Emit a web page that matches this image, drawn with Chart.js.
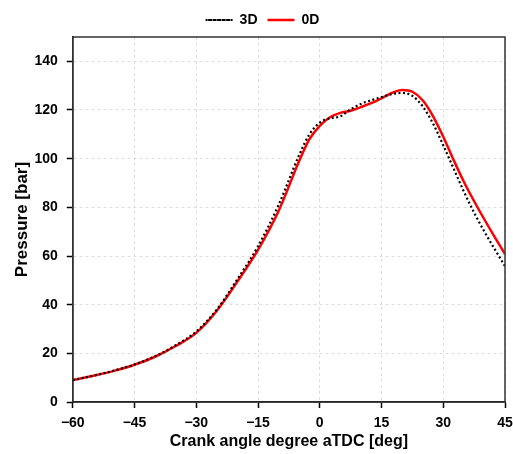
<!DOCTYPE html>
<html>
<head>
<meta charset="utf-8">
<script src="https://cdn.jsdelivr.net/npm/chart.js@4.4.1/dist/chart.umd.min.js"></script>
<style>
  html, body { margin: 0; padding: 0; background: #fff; }
  #wrap { width: 513px; height: 454px; }
</style>
</head>
<body>
<div id="wrap"><canvas id="pressureChart"></canvas></div>
<script>
// Ángulo de cigüeñal (deg aTDC)
const crankAngle = [-60, -55, -50, -45, -40, -35, -30, -25, -20, -15, -10, -5, -2.5, 0, 2.5, 5, 7.5, 10, 12.5, 15, 17.5, 20, 22.5, 25, 27.5, 30, 32.5, 35, 37.5, 40, 42.5, 45];

// Presión 3D (bar) - línea punteada negra
const pressure3D = [9, 10.8, 12.9, 15.4, 18.8, 23.3, 29, 38, 50.5, 64, 81, 101.5, 110, 114.8, 116.6, 117.4, 120.3, 122.5, 124, 125.3, 126.5, 127, 125.8, 121.5, 114.5, 105.5, 96, 86.5, 77.8, 70, 62.8, 55.8];

// Presión 0D (bar) - línea roja
const pressure0D = [9, 10.8, 12.8, 15.3, 18.6, 23, 28.4, 37.5, 49.5, 62.5, 78.5, 99, 108, 113.5, 117, 118.8, 119.7, 121.2, 122.8, 124.8, 127, 128.2, 127.5, 124, 117.5, 109, 99.5, 90.5, 82.5, 75, 67.8, 60.8];

const seriesLabels = ["3D", "0D"];

const FONT = "'Liberation Sans', Arial, sans-serif";

function toPoints(values) {
  return crankAngle.map((a, i) => ({ x: a, y: values[i] }));
}

// Marco completo alrededor del área del gráfico
const boxPlugin = {
  id: "boxPlugin",
  afterDraw(chart) {
    const { ctx, chartArea } = chart;
    ctx.save();
    ctx.strokeStyle = "#333";
    ctx.lineWidth = 1.5;
    ctx.strokeRect(chartArea.left, chartArea.top, chartArea.right - chartArea.left, chartArea.bottom - chartArea.top);
    ctx.restore();
  },
};

const minus = (v) => String(v).replace("-", "\u2212");

const ctx = document.getElementById("pressureChart").getContext("2d");
new Chart(ctx, {
  type: "line",
  data: {
    datasets: [
      {
        label: seriesLabels[0],
        data: toPoints(pressure3D),
        borderColor: "#000",
        backgroundColor: "#000",
        borderWidth: 2.2,
        borderDash: [2, 2.5],
        pointRadius: 0,
        cubicInterpolationMode: "monotone",
      },
      {
        label: seriesLabels[1],
        data: toPoints(pressure0D),
        borderColor: "#ff0000",
        backgroundColor: "#ff0000",
        borderWidth: 2.5,
        pointRadius: 0,
        cubicInterpolationMode: "monotone",
      },
    ],
  },
  options: {
    responsive: true,
    maintainAspectRatio: false,
    animation: false,
    layout: { padding: { left: 12, right: 0, top: 3, bottom: 3 } },
    plugins: {
      legend: {
        position: "top",
        labels: {
          boxWidth: 27,
          boxHeight: 0,
          padding: 10,
          color: "#000",
          font: { family: FONT, size: 14, weight: "bold" },
        },
      },
      tooltip: { enabled: false },
    },
    scales: {
      x: {
        type: "linear",
        min: -60,
        max: 45,
        afterFit: (scale) => {
          scale.paddingRight = 8; // el "45" sobresale del área como en el original
        },
        border: { color: "#000", width: 1.5, dash: [3, 3] },
        grid: {
          color: "#dedede",
          tickColor: "#000",
          tickLength: 6,
          tickWidth: 1.5,
          tickBorderDash: [],
        },
        ticks: {
          stepSize: 15,
          color: "#000",
          padding: 7,
          font: { family: FONT, size: 14, weight: "bold" },
          callback: (v) => minus(v),
        },
        title: {
          display: true,
          text: "Crank angle degree aTDC [deg]",
          color: "#000",
          padding: { top: -7, bottom: 0 },
          font: { family: FONT, size: 16, weight: "bold" },
        },
      },
      y: {
        min: 0,
        max: 150,
        border: { color: "#000", width: 1.5, dash: [3, 3] },
        grid: {
          color: "#dedede",
          tickColor: "#000",
          tickLength: 6,
          tickWidth: 1.5,
          tickBorderDash: [],
        },
        ticks: {
          stepSize: 20,
          includeBounds: false,
          color: "#000",
          padding: 9,
          font: { family: FONT, size: 14, weight: "bold" },
        },
        title: {
          display: true,
          text: "Pressure [bar]",
          color: "#000",
          padding: { top: 0, bottom: -7 },
          font: { family: FONT, size: 17, weight: "bold" },
        },
      },
    },
  },
  plugins: [boxPlugin],
});
</script>
</body>
</html>
